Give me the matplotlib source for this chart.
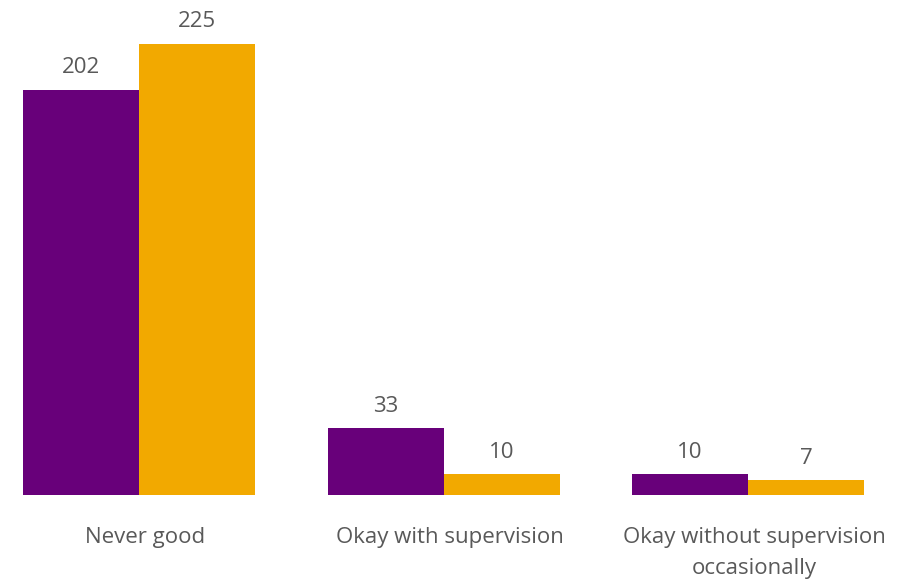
import matplotlib
matplotlib.use("Agg")
import matplotlib.pyplot as plt
import numpy as np

categories = ["Never good", "Okay with supervision", "Okay without supervision\noccasionally"]
series_a = [202, 33, 10]
series_b = [225, 10, 7]
colors = ["#68007A", "#F2A900"]

plt.rcParams['font.family'] = ['Open Sans', 'DejaVu Sans']

W, H = 916, 582
fig = plt.figure(figsize=(W / 100, H / 100), dpi=100)
base_px = 494.5
ax = fig.add_axes([0, (H - base_px) / H, 1, base_px / H])

spacing = 304.5
c0 = 139
x = np.arange(len(categories))
bw = 116 / spacing
ax.bar(x - bw / 2, series_a, width=bw, color=colors[0])
ax.bar(x + bw / 2, series_b, width=bw, color=colors[1])

for xi, v in zip(x - bw / 2, series_a):
    ax.annotate(str(v), (xi, v), xytext=(0, 8.5), textcoords="offset points",
                ha="center", va="bottom", fontsize=16, color="#595959")
for xi, v in zip(x + bw / 2, series_b):
    ax.annotate(str(v), (xi, v), xytext=(0, 8.5), textcoords="offset points",
                ha="center", va="bottom", fontsize=16, color="#595959")

ax.set_xlim((0 - c0) / spacing, (W - c0) / spacing)
ax.set_ylim(0, base_px / 2.004)
ax.set_xticks(x + 6 / spacing)
ax.set_xticklabels(categories, fontsize=16, color="#595959", linespacing=1.6)
ax.tick_params(axis="x", length=0, pad=23.5)
ax.set_yticks([])
for s in ax.spines.values():
    s.set_visible(False)

fig.savefig("out.png", dpi=100)
